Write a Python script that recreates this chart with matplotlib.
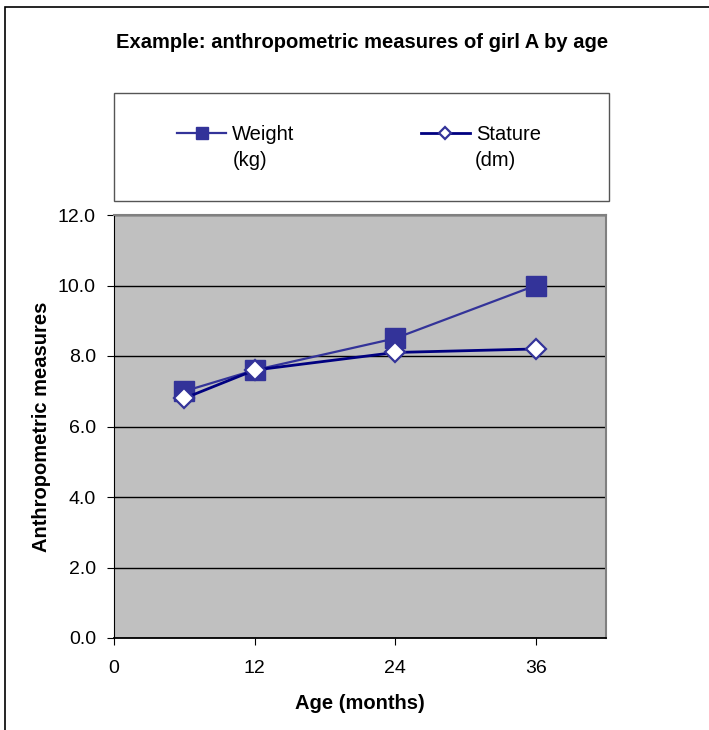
import matplotlib
matplotlib.use("Agg")
import matplotlib.pyplot as plt
from matplotlib.patches import Rectangle

# data
age = [6, 12, 24, 36]
weight = [7.0, 7.6, 8.5, 10.0]
stature = [6.8, 7.6, 8.1, 8.2]
xticks = [0, 12, 24, 36]
yticks = [0, 2, 4, 6, 8, 10, 12]

plt.rcParams['font.family'] = ['Liberation Sans', 'DejaVu Sans']

W, H = 709, 730
fig = plt.figure(figsize=(W / 100, H / 100), dpi=100)

# outer chart frame (cut off at right and bottom)
fig.patches.append(Rectangle((5 / W, -0.05), 1.1, 1 - 7 / H + 0.05,
                             transform=fig.transFigure, fill=False,
                             edgecolor='black', linewidth=1.2))

# legend box
fig.patches.append(Rectangle((114 / W, 1 - 201 / H), 495 / W, 108 / H,
                             transform=fig.transFigure, fill=False,
                             edgecolor='#555555', linewidth=1.0))

fig.text(362 / W, 1 - 42 / H, 'Example: anthropometric measures of girl A by age',
         ha='center', va='center', fontsize=14.5, fontweight='bold')

ax = fig.add_axes([114 / W, 1 - 638 / H, (606 - 114) / W, (638 - 215) / H])
ax.set_facecolor('#c0c0c0')

l1, = ax.plot(age, weight, color='#333399', linewidth=1.6, marker='s',
              markersize=14, markerfacecolor='#333399', markeredgecolor='#333399',
              label='Weight', zorder=3)
l2, = ax.plot(age, stature, color='#000080', linewidth=2.0, marker='D',
              markersize=10, markerfacecolor='white', markeredgecolor='#333399',
              markeredgewidth=1.6, label='Stature', zorder=4)

ax.set_xlim(0, 42)
ax.set_ylim(0, 12)
ax.set_xticks(xticks)
ax.set_yticks(yticks)
ax.set_yticklabels(['%.1f' % v for v in yticks])
ax.yaxis.grid(True, color='black', linewidth=1.0)
ax.set_axisbelow(True)
ax.tick_params(axis='both', labelsize=14, direction='out', length=5, color='black')
ax.tick_params(axis='x', pad=11)
ax.tick_params(axis='y', pad=8)

ax.spines['top'].set_color('#808080')
ax.spines['right'].set_color('#808080')
ax.spines['top'].set_linewidth(1.5)
ax.spines['right'].set_linewidth(1.5)
ax.spines['left'].set_color('black')
ax.spines['bottom'].set_color('black')
ax.spines['bottom'].set_linewidth(1.3)

ax.set_xlabel('Age (months)', fontsize=14.5, fontweight='bold', labelpad=12)
ax.set_ylabel('Anthropometric measures', fontsize=14.5, fontweight='bold', labelpad=5)

# legend: handles on the first line, units underneath
fig.legend(handles=[l1, l2], loc='center left', bbox_to_anchor=(177 / W, 1 - 135 / H),
           ncol=2, frameon=False, fontsize=14.5, markerscale=0.65,
           borderpad=0, borderaxespad=0,
           handlelength=2.45, handletextpad=0.3, columnspacing=6.25)
fig.text(233 / W, 1 - 160 / H, '(kg)', ha='left', va='center', fontsize=14.5)
fig.text(475 / W, 1 - 160 / H, '(dm)', ha='left', va='center', fontsize=14.5)

fig.savefig('out.png', dpi=100)
